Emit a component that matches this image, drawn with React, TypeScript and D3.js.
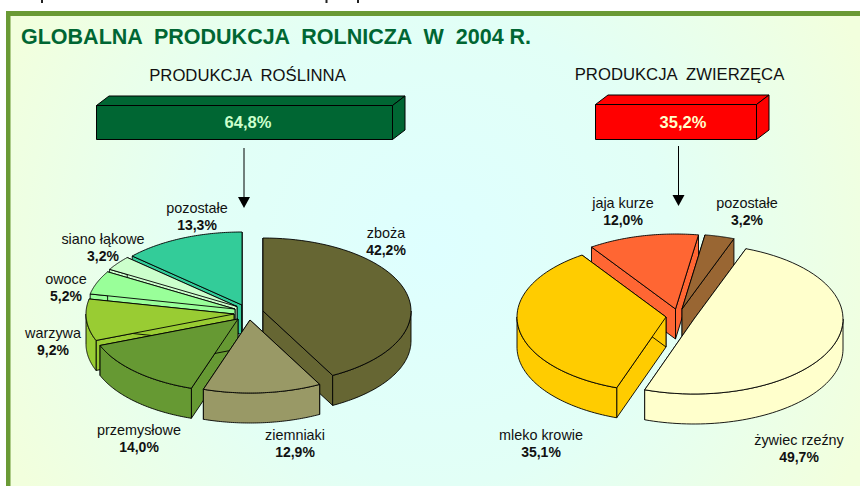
import React from "react";
import * as d3 from "d3";

const plantNames = ["zboża", "ziemniaki", "przemysłowe", "warzywa", "owoce", "siano łąkowe", "pozostałe"];
const plantValues = [42.2, 12.9, 14.0, 9.2, 5.2, 3.2, 13.3];
const plantColors = ["#666633", "#999966", "#669933", "#99CC33", "#99FF99", "#CCFFCC", "#33CC99"];
const animalNames = ["żywiec rzeźny", "mleko krowie", "jaja kurze", "pozostałe"];
const animalValues = [49.7, 35.1, 12.0, 3.2];
const animalColors = ["#FFFFCC", "#FFCC00", "#FF6633", "#996633"];
const fmt = (v: number) => v.toFixed(1).replace(".", ",") + "%";

type Geo = { rx: number; ry: number; depth: number; start: number; apex: [number, number][]; labels: [number, number][] };
const plantGeo: Geo = {
  rx: 148, ry: 73, depth: 30, start: 0,
  apex: [[263, 311], [250, 320], [238, 319], [234, 314], [235, 309], [237, 306.5], [242, 305]],
  labels: [[386, 238], [295, 440], [139, 435], [53, 338], [66, 284], [103, 244], [197, 213]],
};
const animalGeo: Geo = {
  rx: 149, ry: 75, depth: 30, start: 20.4,
  apex: [[694, 319], [666, 317], [675.5, 309], [682, 309]],
  labels: [[799, 445], [541, 440], [623, 208], [747, 208]],
};
const clippedTopMarks = [41, 325.5, 357];

const rad = Math.PI / 180;

function Pie3D({ names, values, colors, geo }: { names: string[]; values: number[]; colors: string[]; geo: Geo }) {
  const pie = d3.pie<number>().sort(null).value((d) => d)
    .startAngle(geo.start * rad).endAngle((geo.start + 360) * rad);
  const arcs = pie(values);
  const items = arcs.map((a, i) => {
    const [cx, cy] = geo.apex[i];
    const pt = (t: number, dy = 0): [number, number] => [cx + geo.rx * Math.sin(t), cy - geo.ry * Math.cos(t) + dy];
    const sample = (t0: number, t1: number, dy = 0) =>
      d3.range(0, 61).map((k) => pt(t0 + ((t1 - t0) * k) / 60, dy));
    const line = d3.line();
    const top = line([[cx, cy], ...sample(a.startAngle, a.endAngle)])! + "Z";
    const wall = (t: number) =>
      line([[cx, cy], pt(t), pt(t, geo.depth), [cx, cy + geo.depth]])! + "Z";
    const f0 = Math.max(a.startAngle, 90 * rad);
    const f1 = Math.min(a.endAngle, 270 * rad);
    const outer = f1 > f0
      ? line([...sample(f0, f1), ...sample(f1, f0, geo.depth)])! + "Z"
      : null;
    const mid = (a.startAngle + a.endAngle) / 2;
    return { i, top, walls: [wall(a.startAngle), wall(a.endAngle)], outer, order: Math.cos(mid) };
  });
  const sorted = [...items].sort((p, q) => q.order - p.order);
  return (
    <g>
      {sorted.map((s) => (
        <g key={s.i} fill={colors[s.i]} stroke="#000" strokeWidth={0.9} strokeLinejoin="round">
          {s.walls.map((w, k) => <path key={k} d={w} />)}
          {s.outer && <path d={s.outer} />}
          <path d={s.top} />
        </g>
      ))}
      {names.map((n, i) => (
        <g key={n} textAnchor="middle" fill="#111">
          <text x={geo.labels[i][0]} y={geo.labels[i][1]} fontSize={14.4}>{n}</text>
          <text x={geo.labels[i][0]} y={geo.labels[i][1] + 17} fontSize={14} fontWeight="bold">{fmt(values[i])}</text>
        </g>
      ))}
    </g>
  );
}

function Box({ x0, x1, y0, y1, dx, dy, fill, text, tx, tfill }: any) {
  const l = d3.line();
  return (
    <g fill={fill} stroke="#000" strokeWidth={1} strokeLinejoin="round">
      <path d={l([[x0, y0], [x0 + dx, y0 - dy], [x1 + dx, y0 - dy], [x1, y0]])! + "Z"} />
      <path d={l([[x1, y0], [x1 + dx, y0 - dy], [x1 + dx, y1 - dy], [x1, y1]])! + "Z"} />
      <rect x={x0} y={y0} width={x1 - x0} height={y1 - y0} />
      <text x={tx} y={(y0 + y1) / 2 + 5.5} textAnchor="middle" fontSize={16.5} fontWeight="bold" fill={tfill} stroke="none">{text}</text>
    </g>
  );
}

function Arrow({ x, y0, y1 }: { x: number; y0: number; y1: number }) {
  return (
    <g>
      <line x1={x} x2={x} y1={y0} y2={y1} stroke="#000" strokeWidth={1} />
      <path d={d3.line()([[x - 6, y1], [x + 6, y1], [x, y1 + 11]])! + "Z"} fill="#000" />
    </g>
  );
}

export default function App() {
  return (
    <svg width={860} height={486} style={{ position: "absolute", left: 0, top: 0, fontFamily: "'Liberation Sans', Arial, sans-serif" }}>
      <defs>
        <radialGradient id="bg" gradientUnits="userSpaceOnUse" cx={435} cy={250} r={470}>
          <stop offset="0" stopColor="#DEFFFF" />
          <stop offset="0.5" stopColor="#E2FFF6" />
          <stop offset="1" stopColor="#F2FFDD" />
        </radialGradient>
      </defs>
      <rect width={860} height={486} fill="#fff" />
      {clippedTopMarks.map((x) => <rect key={x} x={x} y={0} width={2} height={3} fill="#222" />)}
      <rect x={6} y={11} width={854} height={475} fill="url(#bg)" />
      <rect x={6} y={11} width={854} height={5} fill="#6A9A35" />
      <rect x={6} y={11} width={4.5} height={475} fill="#6A9A35" />
      <text x={21} y={44} fontSize={21.5} fontWeight="bold" fill="#006633" style={{ whiteSpace: "pre" }}>GLOBALNA  PRODUKCJA  ROLNICZA  W  2004 R.</text>
      <text x={247.5} y={81} fontSize={16.7} textAnchor="middle" fill="#111" style={{ whiteSpace: "pre" }}>PRODUKCJA  ROŚLINNA</text>
      <text x={679.5} y={80} fontSize={16.7} textAnchor="middle" fill="#111" style={{ whiteSpace: "pre" }}>PRODUKCJA  ZWIERZĘCA</text>
      <Box x0={96.5} x1={392.5} y0={105.5} y1={139.5} dx={12.5} dy={9.5} fill="#006633" text="64,8%" tx={248} tfill="#CCFFCC" />
      <Box x0={595.5} x1={756.5} y0={104.5} y1={139.5} dx={12.5} dy={9.5} fill="#FF0000" text="35,2%" tx={683} tfill="#FFFFCC" />
      <Arrow x={244} y0={148} y1={197} />
      <Arrow x={678.5} y0={146} y1={195} />
      <Pie3D names={plantNames} values={plantValues} colors={plantColors} geo={plantGeo} />
      <Pie3D names={animalNames} values={animalValues} colors={animalColors} geo={animalGeo} />
    </svg>
  );
}
